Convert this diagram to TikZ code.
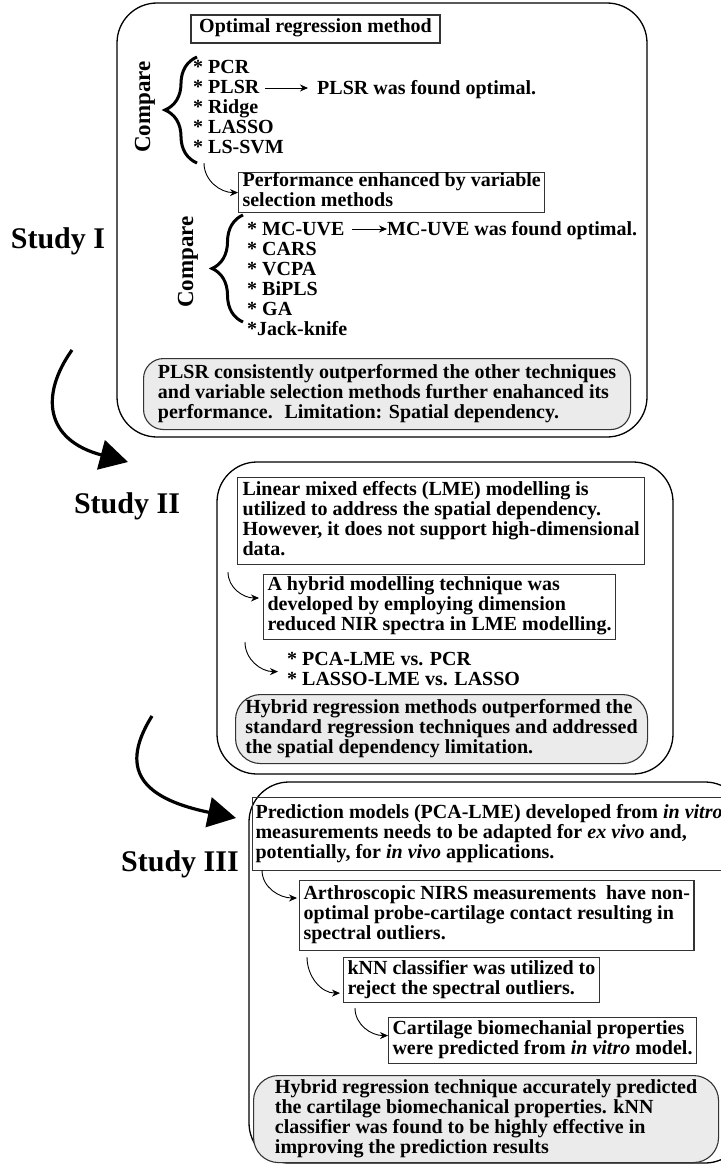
\documentclass[tikz,border=0pt]{standalone}
\usepackage{fontspec}
\setmainfont{Liberation Serif}
\usetikzlibrary{positioning,calc,arrows.meta,decorations.pathreplacing}

\definecolor{sumfill}{HTML}{EBEBEB}
\definecolor{boxline}{HTML}{333333}
\newcommand\bodyfont{\fontsize{20}{20}\selectfont\bfseries}

\begin{document}
\begin{tikzpicture}[x=1pt,y=1pt,
    txtbox/.style={draw=boxline, line width=1.1pt, align=left, anchor=north west,
        inner xsep=4pt, inner ysep=0pt, font=\bodyfont,
        execute at begin node=\strut, execute at end node=\strut},
    sumbox/.style={txtbox, draw=black!80, fill=sumfill, rounded corners=20pt, inner xsep=8pt},
    txtline/.style={align=left, inner sep=0pt, font=\bodyfont,
        execute at begin node=\strut, execute at end node=\strut},
    study/.style={font=\fontsize{30}{30}\selectfont\bfseries, inner sep=0pt},
    cmp/.style={rotate=90, font=\fontsize{23}{23}\selectfont\bfseries, inner sep=0pt},
    brc/.style={decorate, decoration={brace, amplitude=#1}, line width=3pt},
    link/.style={-{Stealth[length=8pt,width=7pt]}, line width=0.9pt},
    bigarrow/.style={-{Triangle[length=28pt,width=30pt]}, line width=3.2pt},
    studyframe/.style={draw, line width=1.3pt, rounded corners=40pt}]
\useasboundingbox (0,0) rectangle (720,-1164);

% Study I
\draw[studyframe] (117,-3) rectangle (647,-437);
\node[study] (stI) at (58,-241) {Study I};
\node[txtbox, anchor=center, align=center, minimum width=249, minimum height=28] (optreg) at (315.5,-29) {Optimal regression method};

\node[cmp] (cmpA) at (145,-107) {Compare};
\draw[brc=32] (197,-163) -- (197,-57);
\node[txtline, anchor=west] (listA) at (193,-109.6) {* PCR\\* PLSR\\* Ridge\\* LASSO\\* LS-SVM};
\node[txtline, anchor=west] (optA) at (317,-90) {PLSR was found optimal.};
\coordinate (a1) at (265,-88);
\draw[link, shorten >=9pt] (a1) -- (a1 -| optA.west);

\node[txtbox, minimum height=40] (perf) at (238,-172) {Performance enhanced by variable\\selection methods};
\coordinate (c1) at (204,-163);
\draw[link] (c1) to[out=-90,in=180] (perf.west);

\node[cmp] (cmpB) at (188,-262) {Compare};
\draw[brc=31] (243,-322) -- (243,-215);
\node[txtline, anchor=west] (listB) at (247,-281.6) {* MC-UVE\\* CARS\\* VCPA\\* BiPLS\\* GA\\*Jack-knife};
\node[txtline, anchor=west] (optB) at (387,-231.6) {MC-UVE was found optimal.};
\coordinate (a2) at (352,-229);
\draw[link] (a2) -- (a2 -| optB.west);

\node[sumbox, minimum width=487, minimum height=71] (sumA) at (143,-358) {PLSR consistently outperformed the other techniques\\and variable selection methods further enahanced its\\performance.~ Limitation: Spatial dependency.};

\coordinate (b1s) at (72,-350);
\coordinate (b1e) at (128,-462);
\draw[bigarrow] (b1s) .. controls (40,-395) and (45,-440) .. (b1e);

% Study II
\draw[studyframe] (217,-462) rectangle (673,-774);
\node[study] (stII) at (127,-506) {Study II};
\node[txtbox, minimum height=87, inner xsep=5pt] (lme) at (237,-477) {Linear mixed effects (LME) modelling is\\utilized to address the spatial dependency.\\However, it does not support high-dimensional\\data.};
\node[txtbox, minimum height=65] (hyb) at (263,-574) {A hybrid modelling technique was\\developed by employing dimension\\reduced NIR spectra in LME modelling.};
\coordinate (c2) at (228,-572);
\draw[link] (c2) to[out=-90,in=180] ($(hyb.north west)+(-4,-24)$);
\node[txtline, anchor=west] (vs) at (287,-671.6) {* PCA-LME vs. PCR\\* LASSO-LME vs. LASSO};
\coordinate (c3) at (245,-642);
\draw[link] (c3) to[out=-90,in=180] ([xshift=-9pt]vs.west);
\node[sumbox, minimum width=412, minimum height=69, rounded corners=25pt] (sumB) at (235,-694) {Hybrid regression methods outperformed the\\standard regression techniques and addressed\\the spatial dependency limitation.};

\coordinate (b2s) at (152,-716);
\coordinate (b2e) at (236,-818);
\draw[bigarrow] (b2s) .. controls (115,-775) and (150,-800) .. (b2e);

% Study III
\draw[studyframe] (249,-782) rectangle (745,-1163);
\node[study] (stIII) at (180,-864) {Study III};
\node[txtbox, inner xsep=3pt, minimum height=73] (pred) at (252,-797) {Prediction models (PCA-LME) developed from \textit{in vitro}\\measurements needs to be adapted for \textit{ex vivo} and,\\potentially, for \textit{in vivo} applications.};
\node[txtbox, minimum height=70] (arth) at (299,-880) {Arthroscopic NIRS measurements~ have non-\\optimal probe-cartilage contact resulting in\\spectral outliers.};
\node[txtbox, minimum height=45] (knn) at (343,-957) {kNN classifier was utilized to\\reject the spectral outliers.};
\node[txtbox, minimum height=46] (cart) at (388,-1017) {Cartilage biomechanial properties\\were predicted from \textit{in vitro} model.};
\coordinate (c4) at (262,-870);
\draw[link] (c4) to[out=-90,in=180] ($(arth.north west)+(-2,-18)$);
\coordinate (c5) at (307,-957);
\draw[link] (c5) to[out=-90,in=180] ($(knn.south west)+(-3,10)$);
\coordinate (c6) at (355,-1008);
\draw[link] (c6) to[out=-90,in=180] ($(cart.west)+(0,5)$);
\node[sumbox, minimum width=465, minimum height=87, rounded corners=25pt] (sumC) at (253,-1075) {Hybrid regression technique accurately predicted\\the cartilage biomechanical properties. kNN\\classifier was found to be highly effective in\\improving the prediction results};
\end{tikzpicture}
\end{document}
